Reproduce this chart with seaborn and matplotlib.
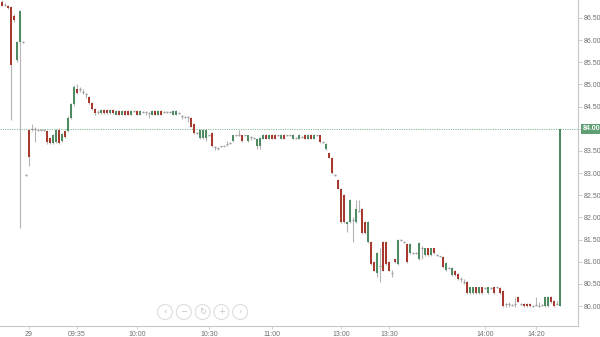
import matplotlib
matplotlib.use("Agg")
import matplotlib.pyplot as plt
from matplotlib.patches import Circle
import pandas as pd
import seaborn as sns

# ---------------- data ----------------
opens = [
    86.85, 86.80, 86.78, 86.75, 86.55, 85.55, 85.95, 85.95, 82.95, 83.97,
    84.00, 84.00, 83.98, 83.98, 83.97, 83.95, 83.80, 83.68, 83.70, 83.97,
    83.72, 83.95, 83.95, 84.25, 84.55, 84.90, 84.90, 84.82, 84.78, 84.72,
    84.58, 84.45, 84.38, 84.36, 84.42, 84.42, 84.36, 84.42, 84.32, 84.40,
    84.32, 84.40, 84.40, 84.32, 84.40, 84.40, 84.32, 84.38, 84.38, 84.35,
    84.32, 84.40, 84.32, 84.40, 84.38, 84.38, 84.38, 84.32, 84.32, 84.35,
    84.28, 84.27, 84.27, 84.25, 84.10, 83.90, 83.80, 83.80, 83.80, 83.85,
    83.90, 83.58, 83.57, 83.60, 83.62, 83.65, 83.68, 83.72, 83.85, 83.85,
    83.85, 83.85, 83.72, 83.82, 83.80, 83.60, 83.60, 83.78, 83.87, 83.78,
    83.87, 83.87, 83.85, 83.78, 83.87, 83.85, 83.85, 83.78, 83.80, 83.78,
    83.82, 83.87, 83.78, 83.87, 83.78, 83.85, 83.85, 83.70, 83.55, 83.45,
    83.35, 82.95, 82.85, 82.65, 82.50, 81.85, 81.90, 81.95, 81.90, 82.15,
    82.20, 81.90, 81.45, 81.45, 81.00, 80.75, 80.90, 81.45, 81.45, 81.00,
    80.75, 81.05, 80.95, 81.48, 81.45, 81.40, 81.20, 81.20, 81.20, 81.05,
    81.30, 81.15, 81.30, 81.15, 81.30, 81.15, 81.12, 81.10, 80.82, 80.85,
    80.70, 80.80, 80.72, 80.60, 80.55, 80.55, 80.30, 80.30, 80.42, 80.30,
    80.42, 80.40, 80.30, 80.40, 80.42, 80.42, 80.40, 80.35, 80.05, 80.05,
    80.02, 80.05, 80.20, 80.05, 80.05, 80.05, 80.05, 80.00, 80.02, 80.00,
    80.02, 80.00, 80.00, 80.20, 80.12, 80.05, 80.00,
]
highs = [
    86.90, 86.84, 86.80, 86.78, 86.60, 85.98, 86.68, 85.97, 82.97, 84.00,
    84.10, 84.05, 84.00, 84.00, 83.99, 83.97, 83.82, 83.88, 84.00, 84.02,
    83.90, 83.97, 84.28, 84.58, 84.98, 85.00, 84.95, 84.90, 84.80, 84.74,
    84.60, 84.47, 84.42, 84.44, 84.44, 84.44, 84.44, 84.44, 84.42, 84.42,
    84.42, 84.42, 84.42, 84.42, 84.42, 84.42, 84.42, 84.40, 84.40, 84.37,
    84.42, 84.42, 84.42, 84.42, 84.40, 84.40, 84.40, 84.42, 84.42, 84.37,
    84.30, 84.29, 84.29, 84.27, 84.12, 83.92, 83.99, 83.99, 83.99, 83.87,
    83.92, 83.60, 83.59, 83.62, 83.64, 83.72, 83.70, 83.87, 83.87, 83.97,
    83.87, 83.87, 83.87, 83.84, 83.82, 83.80, 83.82, 83.89, 83.89, 83.89,
    83.89, 83.89, 83.87, 83.89, 83.89, 83.87, 83.87, 83.89, 83.82, 83.89,
    83.84, 83.89, 83.89, 83.89, 83.89, 83.87, 83.87, 83.72, 83.67, 83.47,
    83.37, 82.97, 82.87, 82.67, 82.52, 81.92, 82.42, 82.00, 82.40, 82.40,
    82.22, 81.92, 81.92, 81.47, 81.02, 81.22, 81.30, 81.47, 81.47, 81.02,
    80.82, 81.07, 81.52, 81.52, 81.47, 81.42, 81.42, 81.22, 81.22, 81.44,
    81.35, 81.32, 81.32, 81.32, 81.32, 81.17, 81.14, 81.12, 81.00, 80.87,
    80.87, 80.82, 80.74, 80.65, 80.60, 80.57, 80.44, 80.44, 80.44, 80.44,
    80.44, 80.42, 80.44, 80.42, 80.44, 80.44, 80.42, 80.37, 80.07, 80.10,
    80.04, 80.20, 80.22, 80.07, 80.07, 80.07, 80.07, 80.02, 80.20, 80.10,
    80.04, 80.22, 80.22, 80.22, 80.14, 80.12, 84.00,
]
lows = [
    86.76, 86.78, 86.70, 84.20, 86.40, 85.50, 81.75, 85.93, 82.93, 83.15,
    83.95, 83.70, 83.96, 83.96, 83.95, 83.65, 83.65, 83.65, 83.68, 83.65,
    83.70, 83.80, 83.93, 84.22, 84.52, 84.78, 84.82, 84.78, 84.70, 84.56,
    84.43, 84.30, 84.33, 84.34, 84.34, 84.34, 84.34, 84.33, 84.30, 84.30,
    84.30, 84.30, 84.30, 84.30, 84.38, 84.30, 84.30, 84.36, 84.30, 84.24,
    84.30, 84.30, 84.30, 84.30, 84.36, 84.36, 84.36, 84.30, 84.30, 84.33,
    84.22, 84.25, 84.15, 84.03, 83.88, 83.88, 83.78, 83.78, 83.72, 83.83,
    83.58, 83.52, 83.52, 83.58, 83.60, 83.62, 83.66, 83.70, 83.83, 83.83,
    83.70, 83.83, 83.70, 83.75, 83.78, 83.55, 83.55, 83.76, 83.76, 83.76,
    83.76, 83.76, 83.83, 83.76, 83.76, 83.83, 83.83, 83.76, 83.78, 83.76,
    83.80, 83.76, 83.76, 83.76, 83.76, 83.83, 83.68, 83.68, 83.52, 83.33,
    82.98, 82.93, 82.63, 81.88, 81.88, 81.68, 81.88, 81.45, 81.88, 82.13,
    81.63, 81.63, 81.43, 80.93, 80.78, 80.65, 80.55, 80.78, 80.93, 80.78,
    80.65, 80.98, 80.93, 81.46, 81.43, 80.98, 81.18, 81.18, 81.18, 81.03,
    81.05, 81.13, 81.13, 81.13, 81.18, 81.13, 81.10, 80.86, 80.80, 80.83,
    80.68, 80.68, 80.58, 80.55, 80.50, 80.28, 80.28, 80.28, 80.28, 80.28,
    80.28, 80.38, 80.28, 80.38, 80.28, 80.40, 80.28, 79.98, 79.98, 79.98,
    80.00, 79.98, 80.08, 80.03, 79.98, 79.98, 79.98, 79.98, 80.00, 79.98,
    80.00, 79.98, 79.98, 80.06, 79.98, 80.03, 80.00,
]
closes = [
    86.78, 86.80, 86.72, 85.45, 86.45, 85.95, 86.65, 85.95, 82.95, 83.36,
    84.00, 84.00, 83.98, 83.98, 83.97, 83.70, 83.68, 83.85, 83.97, 83.68,
    83.88, 83.82, 84.25, 84.55, 84.95, 84.80, 84.90, 84.82, 84.78, 84.58,
    84.45, 84.36, 84.38, 84.42, 84.36, 84.36, 84.42, 84.35, 84.40, 84.32,
    84.40, 84.32, 84.32, 84.40, 84.40, 84.32, 84.40, 84.38, 84.38, 84.35,
    84.40, 84.32, 84.40, 84.32, 84.38, 84.38, 84.38, 84.40, 84.40, 84.35,
    84.28, 84.27, 84.27, 84.05, 83.90, 83.90, 83.97, 83.97, 83.97, 83.85,
    83.60, 83.58, 83.57, 83.60, 83.62, 83.65, 83.68, 83.85, 83.85, 83.85,
    83.72, 83.85, 83.85, 83.82, 83.80, 83.78, 83.80, 83.87, 83.78, 83.87,
    83.78, 83.78, 83.85, 83.87, 83.78, 83.85, 83.85, 83.87, 83.80, 83.87,
    83.82, 83.78, 83.87, 83.78, 83.87, 83.85, 83.70, 83.70, 83.65, 83.35,
    83.00, 82.95, 82.65, 81.90, 81.90, 81.90, 82.40, 81.95, 82.20, 82.15,
    81.65, 81.65, 81.90, 80.95, 80.80, 81.20, 80.90, 80.80, 80.95, 80.80,
    80.75, 81.00, 81.50, 81.48, 81.45, 81.00, 81.40, 81.20, 81.20, 81.42,
    81.30, 81.30, 81.15, 81.30, 81.20, 81.15, 81.12, 80.88, 80.98, 80.85,
    80.85, 80.70, 80.60, 80.60, 80.55, 80.30, 80.42, 80.42, 80.30, 80.42,
    80.30, 80.40, 80.42, 80.40, 80.30, 80.42, 80.30, 80.00, 80.05, 80.05,
    80.02, 80.05, 80.10, 80.05, 80.00, 80.00, 80.00, 80.00, 80.02, 80.00,
    80.02, 80.20, 80.20, 80.08, 80.00, 80.05, 84.00,
]
time_labels = ["29", "09:35", "10:00", "10:30", "11:00", "13:00", "13:30", "14:00", "14:20"]
time_label_candle = [9, 25, 45, 69, 90, 113, 129, 161, 178]
price_ticks = [80.0, 80.5, 81.0, 81.5, 82.0, 82.5, 83.0, 83.5, 84.0, 84.5, 85.0, 85.5, 86.0, 86.5]
last_price = 84.00
nav_symbols = ["\u2039", "\u2212", "\u21bb", "+", "\u203a"]

# ---------------- styling ----------------
UP = "#4f8b62"
DOWN = "#a8392f"
FLAT = "#9a9a9a"
WICK = "#b4b4b4"
AXIS = "#c8c8c8"
TXT = "#707070"

sns.set_style("white")
plt.rcParams["font.family"] = ["Liberation Sans", "DejaVu Sans"]

df = pd.DataFrame({"open": opens, "high": highs, "low": lows, "close": closes})
df["idx"] = range(len(df))

fig = plt.figure(figsize=(6.0, 3.37), dpi=100)
ax = fig.add_axes([0.0, 1 - 326 / 337, 578 / 600, 326 / 337])

# wicks
ax.vlines(df["idx"], df["low"], df["high"], color=WICK, lw=0.8, zorder=2)

up = df[df["close"] > df["open"]]
down = df[df["close"] < df["open"]]
flat = df[df["close"] == df["open"]]
bw = 0.75
ax.bar(up["idx"], up["close"] - up["open"], bottom=up["open"], width=bw,
       color=UP, edgecolor="none", zorder=3)
ax.bar(down["idx"], down["open"] - down["close"], bottom=down["close"], width=bw,
       color=DOWN, edgecolor="none", zorder=3)
ax.hlines(flat["open"], flat["idx"] - bw / 2, flat["idx"] + bw / 2,
          color=FLAT, lw=0.9, zorder=3)

# last price line
ax.axhline(last_price, color="#7fbf95", lw=0.7, ls=(0, (1.2, 1.2)), zorder=1)

ax.set_xlim(-2 / 3, 192)
ax.set_ylim(79.549, 86.906)

ax.yaxis.tick_right()
ax.set_yticks(price_ticks)
ax.set_yticklabels(["" if v == last_price else f"{v:.2f}" for v in price_ticks])
ax.set_xticks(time_label_candle)
ax.set_xticklabels(time_labels)
ax.tick_params(axis="y", which="both", length=3, width=0.6, color=AXIS,
               labelsize=5, labelcolor=TXT, pad=1, right=True, left=False)
ax.tick_params(axis="x", which="both", length=2, width=0.6, color=AXIS,
               labelsize=5, labelcolor=TXT, pad=1.5, bottom=True)
for s in ["top", "left"]:
    ax.spines[s].set_visible(False)
for s in ["right", "bottom"]:
    ax.spines[s].set_color(AXIS)
    ax.spines[s].set_linewidth(0.8)
ax.grid(False)

# last price label box
ax.annotate(f"{last_price:.2f}", xy=(1.0, last_price), xycoords=("axes fraction", "data"),
            xytext=(3.2, 0), textcoords="offset points", ha="left", va="center",
            fontsize=5, color="white", fontweight="bold", zorder=10,
            bbox=dict(boxstyle="square,pad=0.25", fc="#5f9f73", ec="none"),
            annotation_clip=False)

# navigator buttons (overlay in pixel coordinates)
ov = fig.add_axes([0, 0, 1, 1], facecolor="none")
ov.set_xlim(0, 600)
ov.set_ylim(337, 0)
ov.axis("off")
for k, sym in enumerate(nav_symbols):
    cx = 165 + 18.8 * k
    ov.add_patch(Circle((cx, 312), 7.5, fc="white", ec="#dddddd", lw=0.8))
    ov.text(cx, 312, sym, ha="center", va="center", fontsize=6, color="#c4c4c4",
            family=["DejaVu Sans"])

fig.savefig("out.png", dpi=100)
